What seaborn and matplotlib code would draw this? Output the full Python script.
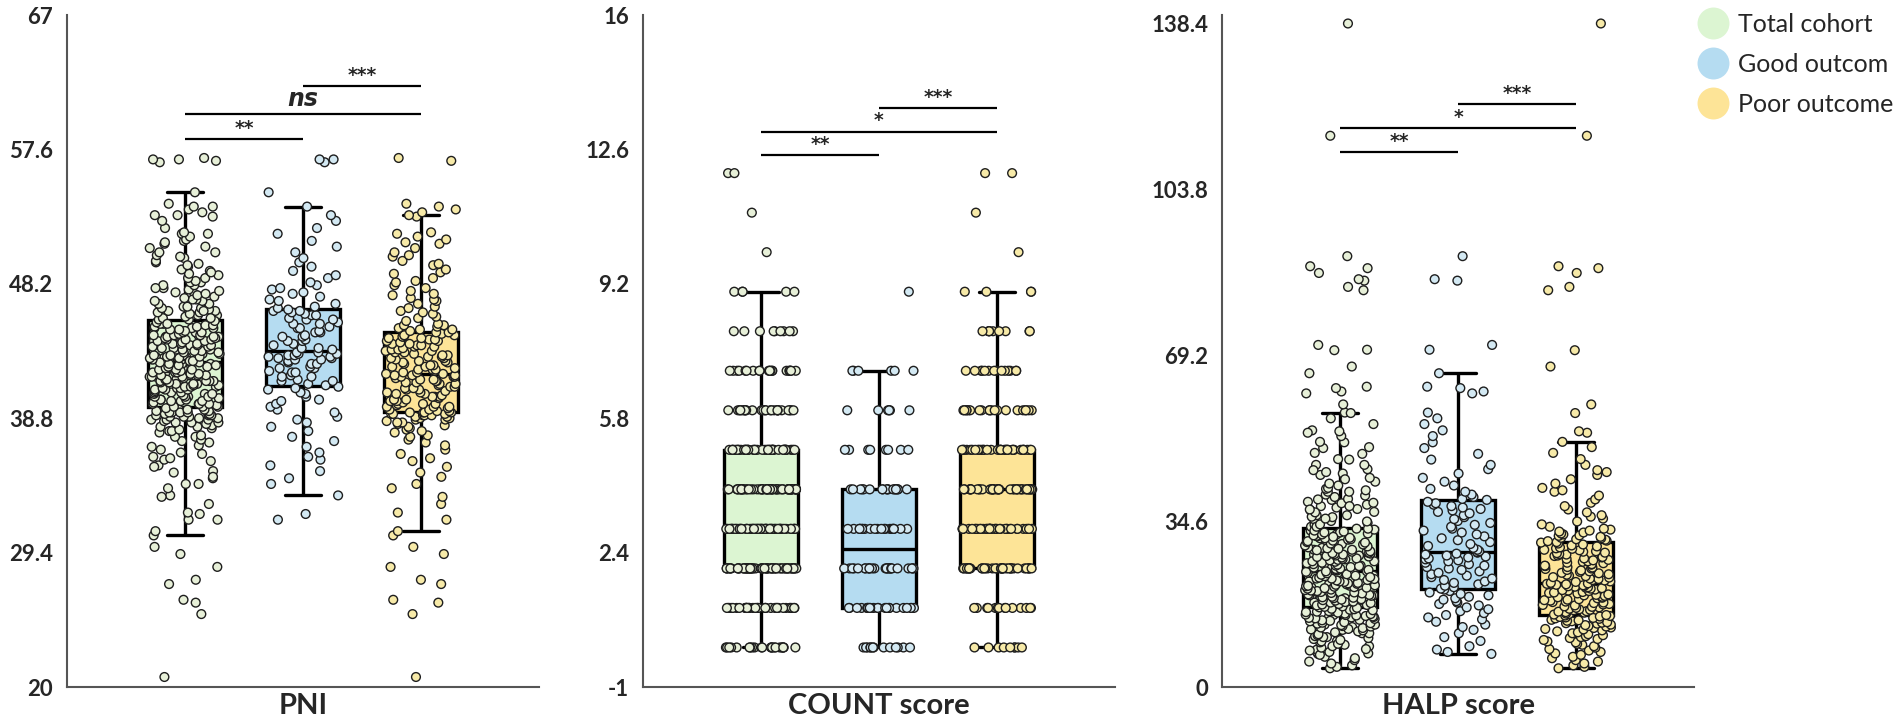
import numpy as np
import pandas as pd
import matplotlib
matplotlib.use("Agg")
import matplotlib.pyplot as plt
import seaborn as sns
from matplotlib.lines import Line2D

# groups as in the figure (legend text kept as printed)
groups = ["Total cohort", "Good outcom", "Poor outcome"]
box_colors = ["#dcf5d2", "#b5dcf1", "#fde497"]
point_colors = ["#e7f0d8", "#d3e9f3", "#f7eaa8"]

# PNI values (sorted), total cohort = good + poor
pni_good = [31.7, 32.1, 33.4, 34.2, 34.6, 35.1, 35.5, 35.9, 36.1, 36.4,
            36.8, 37.2, 37.5, 37.9, 38.2, 38.5, 38.7, 38.9, 39.2, 39.4,
            39.6, 39.8, 40.0, 40.1, 40.3, 40.5, 40.6, 40.8, 40.9, 41.0,
            41.1, 41.2, 41.4, 41.4, 41.5, 41.7, 41.7, 41.8, 42.0, 42.0,
            42.1, 42.3, 42.3, 42.4, 42.6, 42.6, 42.7, 42.8, 42.9, 42.9,
            43.0, 43.0, 43.1, 43.1, 43.2, 43.2, 43.3, 43.3, 43.4, 43.4,
            43.6, 43.7, 43.7, 43.9, 44.0, 44.2, 44.2, 44.3, 44.5, 44.5,
            44.6, 44.8, 44.8, 44.9, 45.1, 45.1, 45.2, 45.4, 45.4, 45.5,
            45.7, 45.7, 45.8, 46.0, 46.0, 46.1, 46.2, 46.3, 46.3, 46.4,
            46.5, 46.6, 46.8, 47.0, 47.1, 47.3, 47.5, 47.6, 47.8, 47.9,
            48.1, 48.3, 48.6, 48.8, 49.1, 49.4, 49.7, 50.0, 50.4, 50.8,
            51.2, 51.7, 52.1, 52.6, 53.0, 53.6, 54.6, 56.7, 56.9, 56.9]
pni_poor = [20.7, 25.1, 25.9, 26.1, 27.2, 27.5, 28.4, 29.3, 29.8, 30.6,
            30.9, 31.7, 32.2, 32.8, 33.3, 33.9, 34.2, 34.7, 35.0, 35.4,
            35.8, 36.0, 36.3, 36.6, 36.9, 37.1, 37.3, 37.5, 37.6, 37.8,
            37.9, 38.0, 38.1, 38.2, 38.3, 38.4, 38.5, 38.5, 38.6, 38.7,
            38.7, 38.8, 38.8, 38.9, 38.9, 39.0, 39.0, 39.0, 39.1, 39.1,
            39.1, 39.2, 39.2, 39.2, 39.2,
            39.3, 39.3, 39.4, 39.4, 39.5, 39.6, 39.6, 39.6, 39.7, 39.8,
            39.8, 39.8, 39.9, 40.0, 40.0, 40.1, 40.1, 40.2, 40.3, 40.3,
            40.3, 40.4, 40.5, 40.5, 40.6, 40.6, 40.7, 40.8, 40.8, 40.9,
            40.9, 41.0, 41.0, 41.1, 41.2, 41.2, 41.3, 41.3, 41.4, 41.4,
            41.5, 41.5, 41.6, 41.7, 41.7, 41.7, 41.8, 41.8, 41.8, 41.9,
            41.9, 42.0, 42.0, 42.1, 42.2, 42.2, 42.2, 42.3, 42.4, 42.4,
            42.5, 42.5, 42.6, 42.7, 42.7, 42.8, 42.8, 42.9, 43.0, 43.0,
            43.1, 43.1, 43.2, 43.2, 43.3, 43.4, 43.4, 43.5, 43.5, 43.6,
            43.6, 43.7, 43.8, 43.8, 43.9, 43.9, 44.0, 44.0, 44.1, 44.2,
            44.2, 44.3, 44.3, 44.4, 44.4, 44.5, 44.5, 44.6, 44.6, 44.6,
            44.7, 44.8, 44.8, 44.9, 45.0, 45.0, 45.1, 45.2, 45.3, 45.3,
            45.4, 45.6, 45.8, 45.9, 46.1, 46.2, 46.3, 46.5, 46.6, 46.8,
            47.0, 47.1, 47.2, 47.4, 47.5, 47.7, 47.9, 48.1, 48.3, 48.4,
            48.6, 48.9, 49.0, 49.2, 49.5, 49.6, 49.8, 50.1, 50.2, 50.4,
            50.7, 51.0, 51.1, 51.3, 51.5, 51.7, 51.8, 52.9, 53.0, 53.2,
            53.4, 53.6, 53.8, 56.8, 57.0]

# COUNT score: frequency of each integer level
count_levels = [0, 1, 2, 3, 4, 5, 6, 7, 8, 9, 10, 11, 12]
count_good_n = [13, 22, 25, 21, 18, 8, 6, 6, 0, 1, 0, 0, 0]
count_poor_n = [9, 14, 36, 38, 38, 34, 20, 14, 9, 4, 1, 1, 2]

# HALP score values (sorted)
halp_good = [6.9, 7.3, 7.8, 8.5, 9.6, 10.4, 11.2, 11.9, 12.5, 13.0,
             13.6, 14.1, 14.5, 15.0, 15.4, 15.8, 16.2, 16.6, 17.0, 17.3,
             17.6, 17.9, 18.2, 18.5, 18.8, 19.1, 19.4, 19.7, 20.0, 20.3,
             20.5, 20.8, 21.1, 21.4, 21.7, 22.0, 22.3, 22.6, 22.9, 23.2,
             23.5, 23.8, 24.1, 24.4, 24.7, 25.0, 25.3, 25.6, 25.9, 26.2,
             26.4, 26.6, 26.8, 27.0, 27.2, 27.4, 27.6, 27.8, 28.0, 28.1,
             28.3, 28.6, 29.0, 29.4, 29.8, 30.2, 30.6, 31.0, 31.4, 31.8,
             32.2, 32.6, 33.0, 33.4, 33.8, 34.2, 34.6, 35.0, 35.4, 35.8,
             36.2, 36.5, 36.8, 37.1, 37.4, 37.7, 38.0, 38.3, 38.6, 39.0,
             39.2, 39.6, 40.1, 40.7, 41.3, 42.0, 42.8, 43.6, 44.5, 45.4,
             46.3, 47.4, 48.6, 49.8, 51.0, 52.3, 53.5, 54.8, 56.0, 57.2,
             61.2, 61.6, 62.3, 62.6, 65.4, 70.3, 71.3, 84.7, 85.0, 89.8]
halp_poor = [3.9, 4.2, 4.5, 4.9, 5.3, 5.6, 6.0, 6.3, 6.7, 7.0,
             7.3, 7.6, 7.9, 8.2, 8.5, 8.8, 9.0, 9.3, 9.5, 9.8,
             10.0, 10.2, 10.4, 10.6, 10.8, 11.0, 11.2, 11.4, 11.6, 11.8,
             12.0, 12.1, 12.3, 12.4, 12.6, 12.7, 12.9, 13.0, 13.2, 13.3,
             13.4, 13.5, 13.7, 13.8, 13.9, 14.0, 14.2, 14.3, 14.4, 14.5,
             14.6, 14.7, 14.8, 14.9, 15.0,
             15.1, 15.2, 15.3, 15.5, 15.6, 15.7, 15.8, 16.0, 16.1, 16.2,
             16.3, 16.5, 16.6, 16.7, 16.8, 17.0, 17.1, 17.2, 17.3, 17.5,
             17.6, 17.7, 17.8, 18.0, 18.1, 18.2, 18.3, 18.5, 18.6, 18.7,
             18.8, 19.0, 19.1, 19.2, 19.3, 19.5, 19.6, 19.7, 19.8, 20.0,
             20.1, 20.2, 20.3, 20.5, 20.6, 20.7, 20.8, 20.9, 21.0, 21.1,
             21.2, 21.3, 21.4, 21.5, 21.6,
             21.7, 21.9, 22.0, 22.2, 22.3, 22.5, 22.6, 22.8, 22.9, 23.1,
             23.2, 23.4, 23.5, 23.7, 23.8, 24.0, 24.1, 24.3, 24.4, 24.6,
             24.7, 24.9, 25.0, 25.2, 25.3, 25.5, 25.6, 25.8, 25.9, 26.1,
             26.2, 26.4, 26.5, 26.7, 26.8, 27.0, 27.1, 27.3, 27.4, 27.6,
             27.7, 27.9, 28.0, 28.2, 28.3, 28.5, 28.6, 28.8, 28.9, 29.1,
             29.3, 29.5, 29.7, 29.9, 30.1,
             30.2, 30.4, 30.5, 30.7, 30.8, 31.0, 31.1, 31.3, 31.5, 31.6,
             31.8, 32.0, 32.2, 32.4, 32.6, 32.8, 33.0, 33.4, 33.9, 34.5,
             35.1, 35.5, 35.8, 36.4, 37.0, 37.7, 38.4, 39.1, 39.9, 40.7,
             41.0, 41.5, 42.4, 43.3, 44.2, 44.8, 45.2, 46.3, 47.5, 48.8,
             50.0, 51.1, 53.0, 53.3, 57.1, 58.9, 66.8, 70.2, 82.7, 83.4,
             86.3, 87.3, 87.7, 114.9, 138.3]

pni_ticks = [20, 29.4, 38.8, 48.2, 57.6, 67]
count_ticks = [-1, 2.4, 5.8, 9.2, 12.6, 16]
halp_ticks = [0, 34.6, 69.2, 103.8, 138.4]

# significance brackets: (group a, group b, height, label)
pni_sig = [(0, 1, 58.3, "**"), (0, 2, 60.1, "ns"), (1, 2, 62.0, "***")]
count_sig = [(0, 1, 12.45, "**"), (0, 2, 13.05, "*"), (1, 2, 13.65, "***")]
halp_sig = [(0, 1, 111.5, "**"), (0, 2, 116.5, "*"), (1, 2, 121.5, "***")]

count_good = np.repeat(count_levels, count_good_n)
count_poor = np.repeat(count_levels, count_poor_n)


def long_df(good, poor):
    good = list(good)
    poor = list(poor)
    total = good + poor
    return pd.DataFrame({
        "group": [groups[0]] * len(total) + [groups[1]] * len(good) + [groups[2]] * len(poor),
        "value": total + good + poor,
    })


panels = [
    ("PNI", long_df(pni_good, pni_poor), pni_ticks, (20, 67), pni_sig),
    ("COUNT score", long_df(count_good, count_poor), count_ticks, (-1, 16), count_sig),
    ("HALP score", long_df(halp_good, halp_poor), halp_ticks, (0, 140.07), halp_sig),
]

sns.set_style("white")
plt.rcParams["font.family"] = ["Lato", "DejaVu Sans"]

fig = plt.figure(figsize=(19.02, 7.25), dpi=100)
lefts = [67, 643, 1222]
np.random.seed(3)

for left, (label, df, ticks, ylim, sig) in zip(lefts, panels):
    ax = fig.add_axes([left / 1902, 1 - 687 / 725, 472 / 1902, 672 / 725])
    sns.boxplot(data=df, x="group", y="value", hue="group", order=groups,
                hue_order=groups, palette=box_colors, saturation=1, width=0.62,
                whis=1.5, showfliers=False, linewidth=2.4, linecolor="black",
                legend=False, ax=ax)
    sns.stripplot(data=df, x="group", y="value", hue="group", order=groups,
                  hue_order=groups, palette=point_colors, jitter=0.3, size=6.3,
                  edgecolor="#1e1e1e", linewidth=1.0, legend=False, zorder=3,
                  ax=ax)
    for a, b, h, txt in sig:
        ax.plot([a, b], [h, h], color="black", lw=1.6, solid_capstyle="butt")
        if txt == "ns":
            ax.annotate(txt, xy=((a + b) / 2, h), xytext=(0, 2),
                        textcoords="offset points", ha="center", va="bottom",
                        fontsize=17, fontweight="bold", fontstyle="italic",
                        family=["DejaVu Sans"])
        else:
            ax.annotate(txt, xy=((a + b) / 2, h), xytext=(0, 1),
                        textcoords="offset points", ha="center", va="bottom",
                        fontsize=13.5, fontweight="bold",
                        family=["DejaVu Sans"])
    ax.set_xlim(-1, 3)
    ax.set_ylim(*ylim)
    ax.set_yticks(ticks)
    ax.set_yticklabels([f"{t:g}" for t in ticks])
    ax.set_xticks([])
    ax.set_xlabel(label, fontsize=21, fontweight="bold", labelpad=4)
    ax.set_ylabel("")
    ax.tick_params(axis="y", length=8, width=1.5, color="#555555",
                   labelsize=16, pad=2)
    for t in ax.get_yticklabels():
        t.set_fontweight("bold")
    sns.despine(ax=ax)
    for s in ["left", "bottom"]:
        ax.spines[s].set_color("#555555")
        ax.spines[s].set_linewidth(1.5)

handles = [Line2D([], [], marker="o", linestyle="none", markersize=23,
                  markerfacecolor=c, markeredgecolor="none") for c in box_colors]
fig.legend(handles, groups, loc="upper left", bbox_to_anchor=(1699 / 1902, 1 - 13 / 725),
           frameon=False, fontsize=18, handlelength=1.15, handletextpad=0.42,
           labelspacing=0.68, borderpad=0, borderaxespad=0)

fig.savefig("out.png", dpi=100)
